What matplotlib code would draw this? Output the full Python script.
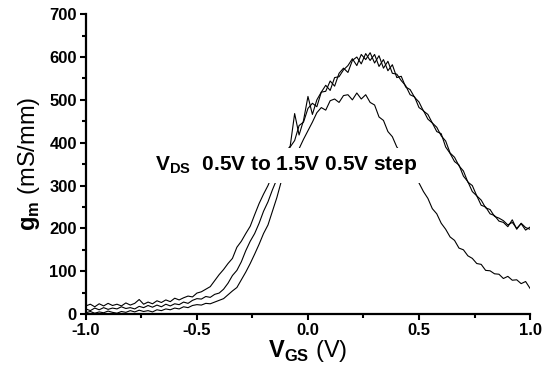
import numpy as np
import matplotlib
matplotlib.use("Agg")
import matplotlib.pyplot as plt
from matplotlib.ticker import MultipleLocator

plt.rcParams['font.family'] = ['Liberation Sans', 'DejaVu Sans']
plt.rcParams['mathtext.fontset'] = 'custom'
plt.rcParams['mathtext.rm'] = 'Liberation Sans'
plt.rcParams['mathtext.bf'] = 'Liberation Sans:bold'

# gate voltage sweep (V)
vgs = np.round(np.arange(-1.0, 1.0001, 0.02), 2)

# transconductance (mS/mm)
gm_05 = [3, 6, 2, 5, 3, 7, 4, 2, 6, 4, 8, 5, 9, 6, 8, 5, 10, 8, 12, 10,
         14, 12, 17, 15, 20, 22, 21, 25, 24, 28, 32, 36, 45, 54, 62, 80, 98, 118, 140, 163,
         188, 208, 240, 272, 310, 335, 355, 370, 386, 408, 428, 448, 470, 482, 476, 498, 502, 494, 510, 512,
         500, 516, 502, 512, 494, 488, 460, 452, 426, 414, 390, 377, 356, 342, 320, 306, 286, 270, 246, 234,
         212, 198, 180, 172, 154, 150, 136, 130, 118, 116, 102, 101, 94, 93, 83, 88, 79, 80, 71, 76,
         60]
gm_10 = [12, 8, 14, 10, 15, 11, 14, 12, 17, 13, 15, 12, 18, 15, 20, 16, 21, 17, 23, 19,
         24, 22, 28, 25, 32, 36, 35, 41, 39, 46, 49, 58, 72, 90, 102, 122, 148, 170, 188, 212,
         240, 262, 290, 315, 340, 365, 390, 405, 440, 448, 480, 492, 484, 518, 520, 544, 532, 562, 574, 564,
         592, 600, 584, 608, 592, 606, 578, 594, 568, 582, 552, 555, 530, 524, 506, 495, 474, 466, 446, 436,
         416, 404, 376, 366, 346, 334, 308, 300, 276, 266, 248, 244, 228, 224, 218, 208, 214, 200, 211, 196,
         203]
gm_15 = [19, 23, 17, 24, 19, 25, 20, 23, 19, 26, 21, 25, 34, 23, 28, 24, 31, 27, 33, 29,
         37, 33, 38, 42, 40, 49, 52, 58, 64, 78, 92, 104, 118, 130, 156, 170, 188, 205, 232, 258,
         280, 300, 325, 345, 362, 378, 392, 468, 418, 452, 508, 466, 500, 518, 534, 522, 552, 554, 570, 580,
         596, 580, 606, 594, 610, 586, 603, 574, 590, 562, 560, 545, 533, 512, 507, 482, 475, 455, 446, 426,
         421, 390, 375, 356, 348, 322, 309, 286, 276, 254, 250, 234, 230, 217, 214, 204, 220, 198, 212, 202,
         198]

fig = plt.figure(figsize=(5.47, 3.73), dpi=100)
ax = fig.add_axes([0.157, 0.158, 0.812, 0.804])

for gm in (gm_05, gm_10, gm_15):
    ax.plot(vgs, gm, color='black', lw=0.8, zorder=2)

ax.set_xlim(-1.0, 1.0)
ax.set_ylim(0, 700)
ax.xaxis.set_major_locator(MultipleLocator(0.5))
ax.xaxis.set_minor_locator(MultipleLocator(0.25))
ax.yaxis.set_major_locator(MultipleLocator(100))
ax.yaxis.set_minor_locator(MultipleLocator(50))
ax.xaxis.set_major_formatter(lambda v, p: f"{v:.1f}")

for s in ('top', 'right'):
    ax.spines[s].set_visible(False)
for s in ('left', 'bottom'):
    ax.spines[s].set_linewidth(1.6)
ax.tick_params(which='major', direction='out', length=4.5, width=1.5,
               labelsize=12, pad=2)
ax.tick_params(which='minor', direction='out', length=3, width=1.5)
for lab in ax.get_xticklabels() + ax.get_yticklabels():
    lab.set_fontweight('bold')

ax.set_xlabel(r'$\mathbf{V}_{\mathbf{GS}}$ (V)', fontsize=17, labelpad=0)
ax.set_ylabel(r'$\mathbf{g}_{\mathbf{m}}$ (mS/mm)', fontsize=17, labelpad=5)

ax.text(-0.69, 347, r'$\mathbf{V}_{\mathbf{DS}}$  0.5V to 1.5V 0.5V step',
        fontsize=15, fontweight='bold', ha='left', va='center', zorder=3,
        bbox=dict(boxstyle='square,pad=0.3', fc='white', ec='none'))

fig.savefig('out.png', dpi=100)
